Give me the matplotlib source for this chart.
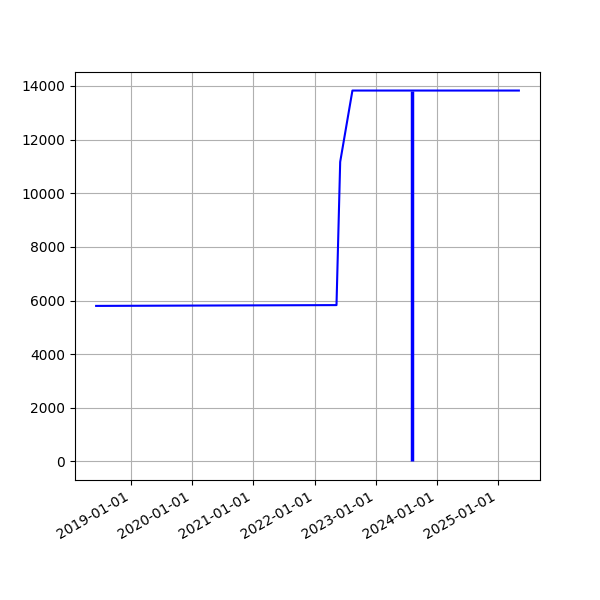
import matplotlib
matplotlib.use("Agg")
from matplotlib import pyplot as plt
import matplotlib.dates as mdates
import pandas as pd

# values
dates = ["2018-06-08", "2022-05-12", "2022-06-03", "2022-08-15", "2025-05-04"]
values = [5800, 5830, 11170, 13830, 13830]
marker_date = "2023-08-08"

df = pd.DataFrame({"date": pd.to_datetime(dates), "value": values})

fig, ax = plt.subplots(figsize=(6, 6), dpi=100)
ax.plot(df["date"], df["value"], color="blue", linewidth=1.5)
ax.vlines(pd.to_datetime(marker_date), 0, df["value"].max(), color="blue", linewidth=2.5)

ax.xaxis.set_major_locator(mdates.YearLocator())
ax.xaxis.set_major_formatter(mdates.DateFormatter("%Y-%m-%d"))
ax.grid(True)
fig.autofmt_xdate()

plt.savefig("out.png", dpi=100)
